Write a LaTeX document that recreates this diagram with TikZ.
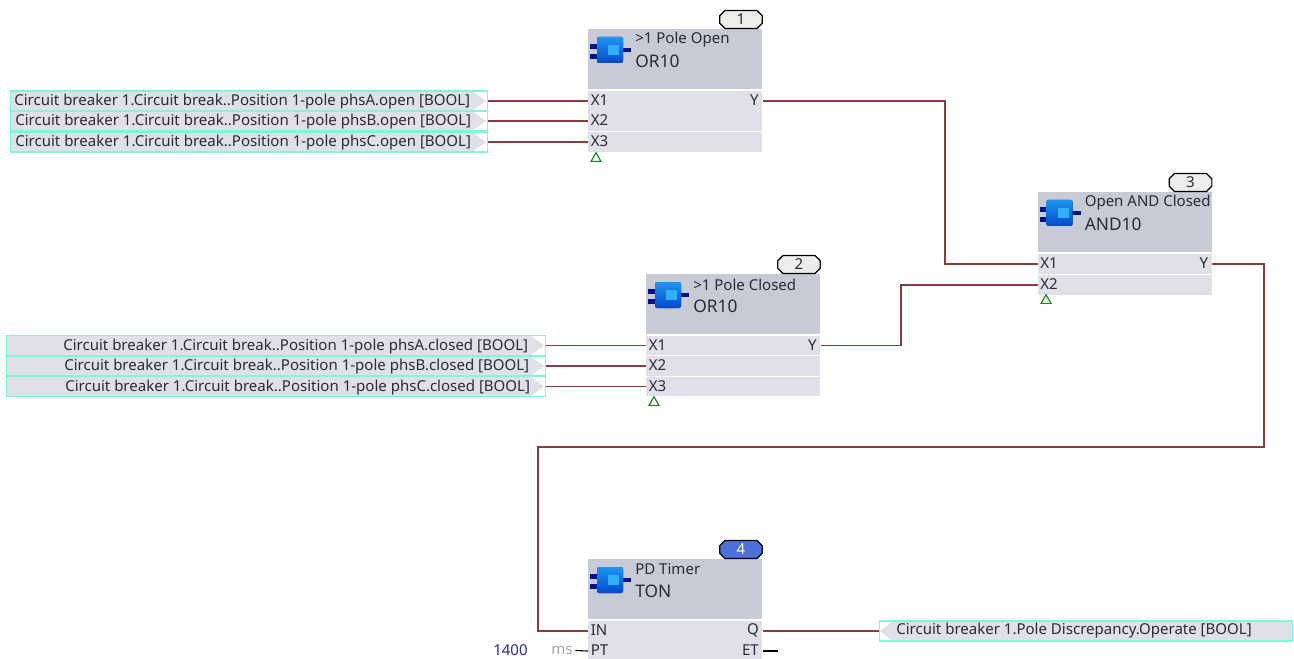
\documentclass[tikz,border=0pt]{standalone}
\usepackage{fontspec}
\setmainfont{Noto Sans}
\usetikzlibrary{calc,shapes.geometric,shapes.misc}
\definecolor{hdr}{HTML}{C8CAD6}
\definecolor{rowc}{HTML}{E0E0E8}
\definecolor{teal1}{HTML}{80F8D4}
\definecolor{wire}{HTML}{8B3A3F}
\definecolor{txt}{HTML}{2A2A3A}
\definecolor{blueb}{HTML}{4A72D8}
\definecolor{badgeg}{HTML}{EDEDED}
\definecolor{navy}{HTML}{2A2A9A}
\definecolor{icont}{HTML}{1E96F4}
\definecolor{iconb}{HTML}{0648C8}
\definecolor{iconl}{HTML}{30B0F8}
\definecolor{icond}{HTML}{00148C}
\definecolor{grn}{HTML}{1E8A1E}
\newcommand\smalltxt{\fontsize{11.27pt}{13pt}\selectfont}
\newcommand\bigtxt{\fontsize{13pt}{15pt}\selectfont}
\tikzset{
  x=0.75pt,y=-0.75pt,
  wireline/.style={draw=wire,line width=1pt},
  plainwire/.style={draw=black,line width=0.8pt},
  headbox/.style={fill=hdr,inner sep=0pt,minimum width=130.5pt,minimum height=45pt,anchor=north west},
  pinrow/.style={fill=rowc,inner sep=0pt,minimum width=130.5pt,minimum height=14.6pt,anchor=west},
  pinlabel/.style={inner sep=0pt,text=txt,font=\smalltxt},
  title/.style={inner sep=0pt,anchor=west,text=txt,font=\smalltxt},
  kind/.style={inner sep=0pt,anchor=west,text=txt,font=\bigtxt},
  badge/.style={draw=black,line width=0.9pt,chamfered rectangle,chamfered rectangle xsep=2pt,chamfered rectangle ysep=2pt,inner sep=0pt,minimum width=32pt,minimum height=13.5pt,font=\smalltxt},
  sigbox/.style={draw=teal1,line width=1pt,inner sep=0pt,minimum height=15pt,anchor=west},
  sigtext/.style={inner sep=0pt,anchor=west,text=txt,font=\smalltxt},
  en/.style={draw=grn,line width=0.9pt,fill=white,inner sep=0pt,shape=regular polygon,regular polygon sides=3,minimum size=8.6pt},
}
% name, x, header-top y, title, kind, number, badge fill, badge text colour
\newcommand\fbblock[8]{%
  \node[headbox] (#1) at (#2,#3) {};
  \fill[icond] (#2+2,#3+15) rectangle (#2+10,#3+20);
  \fill[icond] (#2+2,#3+25) rectangle (#2+10,#3+30);
  \fill[icond] (#2+33,#3+19) rectangle (#2+43,#3+23);
  \fill[rounded corners=1.5pt,top color=icont,bottom color=iconb] (#2+9,#3+8) rectangle (#2+35,#3+34);
  \fill[iconl] (#2+20,#3+16) rectangle (#2+31,#3+26);
  \node[title] (#1t) at (#2+47,#3+10.5) {#4};
  \node[kind] (#1k) at (#2+47,#3+32) {#5};
  \node[badge,fill=#7,text=#8] (#1b) at (#2+153,#3-9.5) {#6};
}
% name, x, y-centre, left text, right text (or empty)
\newcommand\fbrow[5]{%
  \node[pinrow] (#1) at (#2,#3) {};
  \node[pinlabel,anchor=west] (#1l) at (#2+2.5,#3-0.5) {#4};
  \node[pinlabel,anchor=east] (#1r) at (#2+171,#3-0.5) {#5};
}
% name, x left, x right, y centre, text, text x
\newcommand\sigin[6]{%
  \fill[rowc] (#2,#4-10) -- (#3-15,#4-10) -- (#3-1,#4) -- (#3-15,#4+10) -- (#2,#4+10) -- cycle;
  \node[sigbox,minimum width=#3*0.75pt-#2*0.75pt] (#1) at (#2,#4) {};
  \node[sigtext] (#1t) at (#6,#4+0.8) {#5};
}
\begin{document}
\begin{tikzpicture}
\useasboundingbox (0,0) rectangle (1294,659);
\fill[white] (0,0) rectangle (1294,659);
\fbblock{A}{588}{29}{>1 Pole Open}{OR10}{1}{badgeg}{txt}
\fbrow{Ax1}{588}{101}{X1}{Y}
\fbrow{Ax2}{588}{121}{X2}{}
\fbrow{Ax3}{588}{142}{X3}{}
\node[en] (Ae) at (596,158.5) {};
\fbblock{B}{646}{274}{>1 Pole Closed}{OR10}{2}{badgeg}{txt}
\fbrow{Bx1}{646}{345.5}{X1}{Y}
\fbrow{Bx2}{646}{366}{X2}{}
\fbrow{Bx3}{646}{386.5}{X3}{}
\node[en] (Be) at (654,402.5) {};
\fbblock{C}{1037.5}{192}{Open AND Closed}{AND10}{3}{badgeg}{txt}
\fbrow{Cx1}{1037.5}{264}{X1}{Y}
\fbrow{Cx2}{1037.5}{285}{X2}{}
\node[en] (Ce) at (1046,300.5) {};
\fbblock{D}{588}{559}{PD Timer}{TON}{4}{blueb}{white}
\fbrow{Dx1}{588}{631}{IN}{Q}
\fbrow{Dx2}{588}{651}{PT}{ET}
\sigin{S1}{10}{487}{101}{Circuit breaker 1.Circuit break..Position 1-pole phsA.open [BOOL]}{14}
\sigin{S2}{10}{487}{121}{Circuit breaker 1.Circuit break..Position 1-pole phsB.open [BOOL]}{15}
\sigin{S3}{10}{487}{142}{Circuit breaker 1.Circuit break..Position 1-pole phsC.open [BOOL]}{15}
\sigin{T1}{6}{545}{345.5}{Circuit breaker 1.Circuit break..Position 1-pole phsA.closed [BOOL]}{63}
\sigin{T2}{6}{545}{366}{Circuit breaker 1.Circuit break..Position 1-pole phsB.closed [BOOL]}{64}
\sigin{T3}{6}{545}{386.5}{Circuit breaker 1.Circuit break..Position 1-pole phsC.closed [BOOL]}{65}
\fill[rowc] (1292,621) -- (893,621) -- (880,631) -- (893,641) -- (1292,641) -- cycle;
\node[sigbox,minimum width=309.5pt] (U) at (879,631) {};
\node[sigtext] (Ut) at (896,631) {Circuit breaker 1.Pole Discrepancy.Operate [BOOL]};
\node[inner sep=0pt,anchor=west,text=navy,font=\smalltxt] (val) at (493,650.5) {1400};
\node[inner sep=0pt,anchor=west,text=gray!70,font=\smalltxt] (unit) at (551,650.5) {ms};
\coordinate (etend) at (778,651);
% connectors
\draw[wireline] (S1.east) -- (Ax1.west);
\draw[wireline] (S2.east) -- (Ax2.west);
\draw[wireline] (S3.east) -- (Ax3.west);
\draw[wireline] (T1.east) -- (Bx1.west);
\draw[wireline] (T2.east) -- (Bx2.west);
\draw[wireline] (T3.east) -- (Bx3.west);
\draw[wireline] (Ax1.east) -| (945,200) |- (Cx1.west);
\draw[wireline] (Bx1.east) -| (901,300) |- (Cx2.west);
\draw[wireline] (Cx1.east) -| (1264,447) -| (538,500) |- (Dx1.west);
\draw[wireline] (Dx1.east) -- (U.west);
\draw[plainwire] ([xshift=2pt]unit.east) -- (Dx2.west);
\draw[plainwire] (Dx2.east) -- (etend);
\end{tikzpicture}
\end{document}
